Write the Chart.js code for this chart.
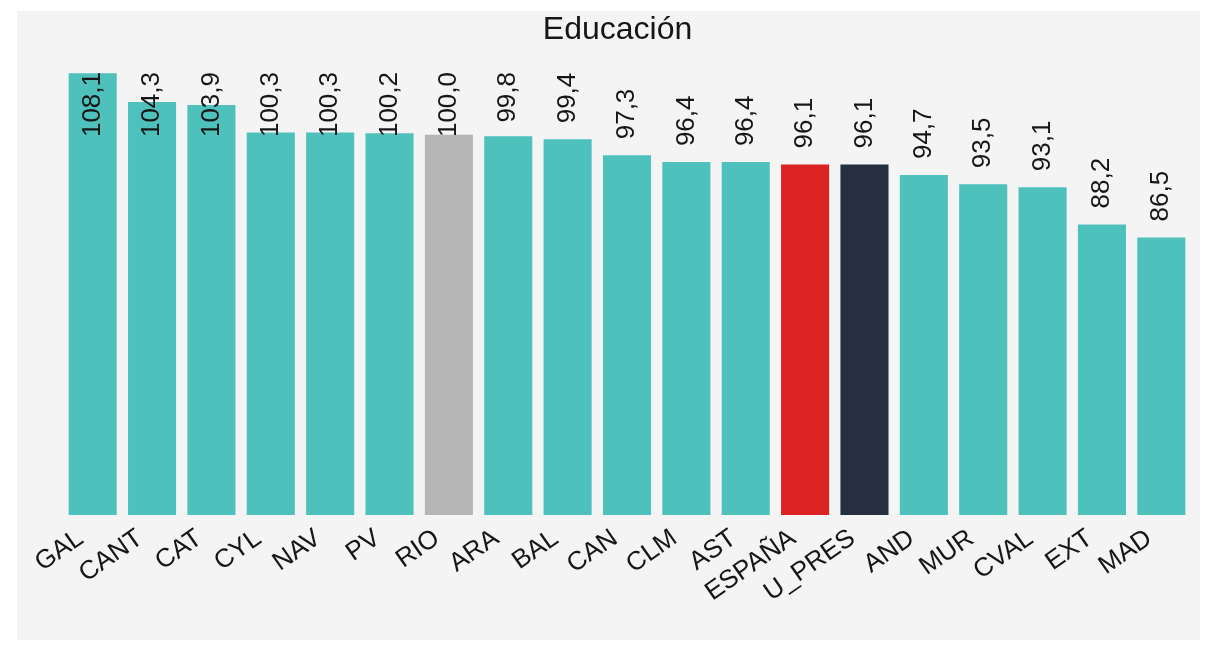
<!DOCTYPE html>
<html>
<head>
<meta charset="utf-8">
<script src="https://cdn.jsdelivr.net/npm/chart.js@4.4.1/dist/chart.umd.min.js"></script>
<style>
  html,body{margin:0;padding:0;background:#fff;}
  #panel{position:absolute;left:17px;top:11px;width:1183px;height:629px;background:#f4f4f4;}
  #panel canvas{display:block;}
</style>
</head>
<body>
<div id="panel"><canvas id="eduChart" width="1183" height="629"></canvas></div>
<script>
// Educación — índice por comunidad autónoma
const categorias = ['GAL','CANT','CAT','CYL','NAV','PV','RIO','ARA','BAL','CAN','CLM','AST','ESPAÑA','U_PRES','AND','MUR','CVAL','EXT','MAD'];
const valores = [108.1,104.3,103.9,100.3,100.3,100.2,100.0,99.8,99.4,97.3,96.4,96.4,96.1,96.1,94.7,93.5,93.1,88.2,86.5];

const txtColor = '#161616';
const fontFam = "'Liberation Sans', Arial, sans-serif";

function colorBarra(cat){
  if(cat==='RIO') return '#b5b5b5';
  if(cat==='ESPAÑA') return '#dc2323';
  if(cat==='U_PRES') return '#262f3f';
  return '#4fc1bd';
}

// etiquetas de valor giradas 90°, encima de la barra (o dentro si no caben)
const etiquetasValor = {
  id:'etiquetasValor',
  afterDatasetsDraw(chart){
    const ctx = chart.ctx;
    const meta = chart.getDatasetMeta(0);
    const top = chart.chartArea.top;
    ctx.save();
    ctx.font = `26px ${fontFam}`;
    ctx.fillStyle = txtColor;
    ctx.textAlign = 'left';
    ctx.textBaseline = 'middle';
    meta.data.forEach((bar,i)=>{
      const txt = valores[i].toFixed(1).replace('.',',');
      const w = ctx.measureText(txt).width;
      let start = bar.y - 16;
      if(start - w < top) start = top + w;
      ctx.save();
      ctx.translate(bar.x, start);
      ctx.rotate(-Math.PI/2);
      ctx.fillText(txt, 0, 0);
      ctx.restore();
    });
    ctx.restore();
  }
};

new Chart(document.getElementById('eduChart').getContext('2d'),{
  type:'bar',
  data:{
    labels:categorias,
    datasets:[{data:valores, backgroundColor:categorias.map(colorBarra), barPercentage:0.81, categoryPercentage:1}]
  },
  options:{
    responsive:false, animation:false,
    layout:{padding:{left:27, right:9, top:0, bottom:0}},
    plugins:{
      legend:{display:false}, tooltip:{enabled:false},
      title:{display:true, text:'Educación', color:txtColor, font:{family:fontFam, size:32, weight:'normal', lineHeight:1}, padding:{top:3, bottom:26}}
    },
    scales:{
      x:{grid:{display:false}, border:{display:false},
         ticks:{color:txtColor, font:{family:fontFam, size:26}, minRotation:35, maxRotation:35, autoSkip:false, padding:0, labelOffset:-12},
         afterFit(s){ s.height = 125; }},
      // eje y oculto: solo reserva el hueco de la izquierda
      y:{min:50, max:108.25, grid:{display:false}, border:{display:false}, ticks:{display:false},
         afterFit(s){ s.width = 19; }}
    }
  },
  plugins:[etiquetasValor]
});
</script>
</body>
</html>
